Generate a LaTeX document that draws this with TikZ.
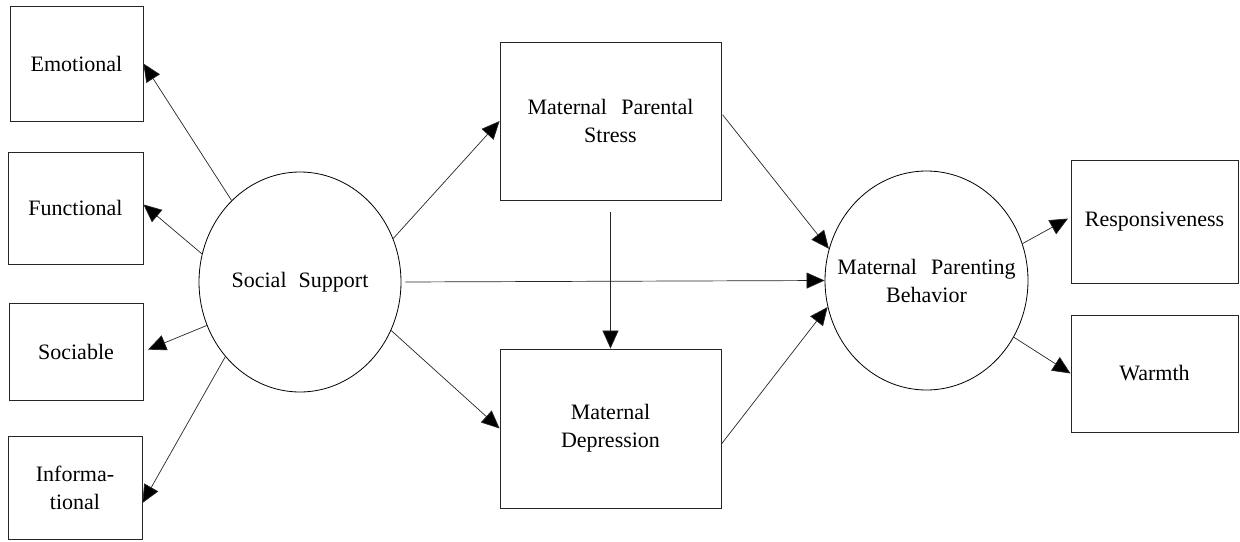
\documentclass[tikz,border=0pt]{standalone}
\usepackage{fontspec}
\setmainfont{Liberation Serif}
\usetikzlibrary{arrows.meta,shapes.geometric}
\tikzset{
  txt/.style={inner sep=0pt, align=center, font=\fontsize{22}{28}\selectfont},
  box/.style={txt, draw=black!85, line width=0.8pt},
  oval/.style={ellipse, draw=black, line width=0.8pt, inner sep=0pt},
  arr/.style={-{Triangle[length=18pt,width=16pt,fill=black]}, line width=0.7pt, draw=black!85},
}
\begin{document}
\begin{tikzpicture}[x=1pt,y=-1pt]
\useasboundingbox (0,0) rectangle (1240,541);
\node[box, minimum width=133pt, minimum height=115pt] (emo) at (76.5,63.5) {Emotional};
\node[box, minimum width=135pt, minimum height=112pt] (func) at (75.5,208) {Functional};
\node[box, minimum width=134pt, minimum height=97pt] (soc) at (76,351.5) {Sociable};
\node[box, minimum width=134pt, minimum height=103pt] (info) at (75,487.5) {Informa-\\tional};
\node[oval, minimum width=202pt, minimum height=220pt] (ss) at (300,282) {};
\node[txt] (sst) at (ss.center) {Social\hspace{0.3em} Support};
\node[box, minimum width=221pt, minimum height=158pt] (stress) at (610.5,121) {Maternal\hspace{0.4em} Parental\\Stress};
\node[box, minimum width=221pt, minimum height=159pt] (dep) at (610.5,428.5) {Maternal\\Depression};
\node[oval, minimum width=203pt, minimum height=219pt] (mpb) at (926.5,280.5) {};
\node[txt] (mpbt) at (mpb.center) {Maternal\hspace{0.4em} Parenting\\Behavior};
\node[box, minimum width=167pt, minimum height=123pt] (resp) at (1154.5,221.5) {Responsiveness};
\node[box, minimum width=167pt, minimum height=117pt] (warm) at (1154.5,373.5) {Warmth};

\draw[arr] (ss.130) -- (emo.east);
\draw[arr] (ss.164) -- (func.3);
\draw[arr, shorten >=5pt] (ss.205) -- (soc.east);
\draw[arr] (ss.225) -- (info.-13);
\draw[arr] (ss.25) -- (stress.west);
\draw[arr, shorten <=4pt] (ss.east) -- (mpb.west);
\draw[arr] (ss.-28) -- (dep.west);
\draw[arr, shorten <=12pt] (stress.south) -- (dep.north);
\draw[arr, shorten <=2pt] (stress.4) -- (mpb.162);
\draw[arr] (dep.-8) -- (mpb.195);
\draw[arr, shorten >=3pt] (mpb.21) -- (resp.177);
\draw[arr] (mpb.-33) -- (warm.west);
\end{tikzpicture}
\end{document}
